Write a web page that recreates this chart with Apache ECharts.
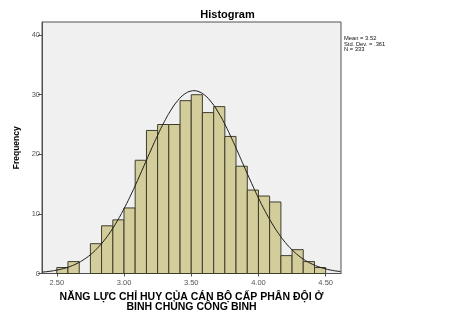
<!DOCTYPE html>
<html>
<head>
<meta charset="utf-8">
<script src="https://cdn.jsdelivr.net/npm/echarts@6/dist/echarts.min.js"></script>
<style>
  html, body { margin: 0; padding: 0; background: #ffffff; }
  #chart { width: 455px; height: 321px; }
</style>
</head>
<body>
<div id="chart"></div>
<script>
// ---- Data ----
const chartTitle = 'Histogram';
const xAxisTitle = 'NĂNG LỰC CHỈ HUY CỦA CÁN BỘ CẤP PHÂN ĐỘI Ở\nBINH CHỦNG CÔNG BINH';
const yAxisTitle = 'Frequency';
const statsLines = ['Mean = 3.52', 'Std. Dev. = .361', 'N = 333'];

// histogram bin edges (left edge of each bin, plus final right edge)
const binEdges = [2.500, 2.583, 2.667, 2.750, 2.833, 2.917, 3.000, 3.083, 3.167, 3.250,
                  3.333, 3.417, 3.500, 3.583, 3.667, 3.750, 3.833, 3.917, 4.000, 4.083,
                  4.167, 4.250, 4.333, 4.417, 4.500];
// frequency of each bin
const binCounts = [1, 2, 0, 5, 8, 9, 11, 19, 24, 25, 25, 29, 30, 27, 28, 23, 18, 14, 13, 12, 3, 4, 2, 1];

// fitted normal curve
const curveX = [2.39, 2.40, 2.45, 2.50, 2.55, 2.60, 2.65, 2.70, 2.75, 2.80, 2.85, 2.90, 2.95,
                3.00, 3.05, 3.10, 3.15, 3.20, 3.25, 3.30, 3.35, 3.40, 3.45, 3.50, 3.52,
                3.55, 3.60, 3.65, 3.70, 3.75, 3.80, 3.85, 3.90, 3.95, 4.00, 4.05, 4.10,
                4.15, 4.20, 4.25, 4.30, 4.35, 4.40, 4.45, 4.50, 4.55, 4.60, 4.61];
const curveY = [0.23, 0.25, 0.38, 0.57, 0.83, 1.19, 1.68, 2.33, 3.15, 4.20, 5.48, 7.02, 8.82,
                10.87, 13.14, 15.59, 18.14, 20.71, 23.19, 25.47, 27.45, 29.02, 30.10, 30.62, 30.67,
                30.56, 29.93, 28.74, 27.09, 25.04, 22.70, 20.20, 17.62, 15.09, 12.67, 10.44, 8.44,
                6.69, 5.20, 3.97, 2.97, 2.18, 1.57, 1.11, 0.77, 0.52, 0.35, 0.32];

const xTicks = [2.5, 3.0, 3.5, 4.0, 4.5];
const yTicks = [0, 10, 20, 30, 40];

// ---- Build options ----
const barData = binCounts.map((c, i) => [binEdges[i], binEdges[i + 1], c]);
const curveData = curveX.map((x, i) => [x, curveY[i]]);

const FONT = '"Liberation Sans", Arial, sans-serif';

const chart = echarts.init(document.getElementById('chart'), null, { renderer: 'canvas' });

chart.setOption({
  backgroundColor: '#ffffff',
  animation: false,
  grid: {
    left: 42, right: 114, top: 22, bottom: 47.5,
    show: true,
    backgroundColor: '#f0f0f0',
    borderColor: '#505050',
    borderWidth: 1
  },
  xAxis: {
    type: 'value',
    min: 2.39, max: 4.614,
    name: xAxisTitle,
    nameLocation: 'middle',
    nameGap: 18,
    nameTextStyle: { fontFamily: FONT, fontSize: 10.5, fontWeight: 'bold', color: '#000', lineHeight: 10 },
    axisLine: { show: true, onZero: false, lineStyle: { color: '#505050', width: 1 } },
    axisTick: { show: true, length: 3, lineStyle: { color: '#505050' }, customValues: xTicks },
    axisLabel: {
      fontFamily: FONT, fontSize: 7.5, color: '#555', margin: 5,
      customValues: xTicks,
      formatter: v => v.toFixed(2)
    },
    splitLine: { show: false }
  },
  yAxis: {
    type: 'value',
    min: 0, max: 42.2,
    name: yAxisTitle,
    nameLocation: 'middle',
    nameGap: 21,
    nameRotate: 90,
    nameTextStyle: { fontFamily: FONT, fontSize: 8.5, fontWeight: 'bold', color: '#000' },
    axisLine: { show: true, lineStyle: { color: '#505050', width: 1 } },
    axisTick: { show: true, length: 4, lineStyle: { color: '#505050' }, customValues: yTicks },
    axisLabel: { fontFamily: FONT, fontSize: 7.5, color: '#555', margin: 2, customValues: yTicks },
    splitLine: { show: false }
  },
  graphic: [
    {
      type: 'text', left: 'center', top: 9,
      style: { text: chartTitle, font: 'bold 11px ' + FONT, fill: '#000' }
    },
    {
      type: 'text', left: 344, top: 35.5,
      style: { text: statsLines.join('\n'), font: '5.8px ' + FONT, lineHeight: 5.6, fill: '#111' }
    }
  ],
  series: [
    {
      type: 'custom',
      data: barData,
      encode: { x: [0, 1], y: 2 },
      renderItem: function (params, api) {
        const h = api.value(2);
        if (!h) return null;
        const p0 = api.coord([api.value(0), h]);
        const p1 = api.coord([api.value(1), 0]);
        return {
          type: 'rect',
          shape: { x: p0[0], y: p0[1], width: p1[0] - p0[0], height: p1[1] - p0[1] },
          style: { fill: '#d3cd9b', stroke: '#3f3d2c', lineWidth: 1 }
        };
      },
      z: 2
    },
    {
      type: 'line',
      data: curveData,
      smooth: true,
      showSymbol: false,
      lineStyle: { color: '#1a1a1a', width: 1 },
      z: 3
    }
  ]
});
</script>
</body>
</html>
